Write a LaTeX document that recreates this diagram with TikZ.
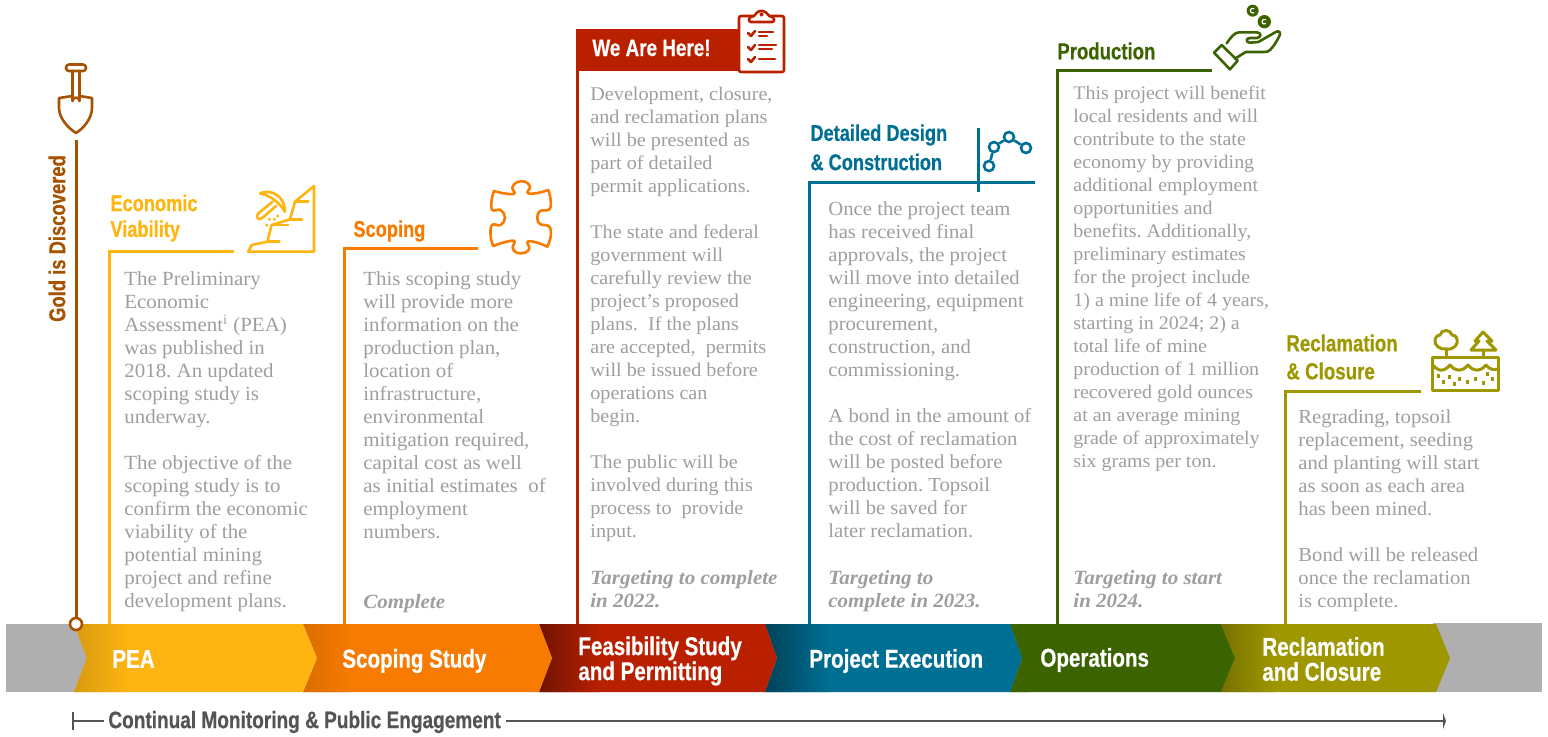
\documentclass[tikz,border=0pt]{standalone}
\usepackage{fontspec}
\setmainfont[FakeStretch=1.04]{Liberation Serif}
\newfontfamily\headf[FakeStretch=0.8,BoldFeatures={FakeBold=0.5,FakeStretch=0.8}]{Liberation Sans}
\definecolor{cyel}{HTML}{FFB511}
\definecolor{cora}{HTML}{F77B00}
\definecolor{cred}{HTML}{B92000}
\definecolor{cblu}{HTML}{006F94}
\definecolor{cgrn}{HTML}{3B6400}
\definecolor{coli}{HTML}{9E9700}
\definecolor{cbro}{HTML}{A65200}
\definecolor{cgry}{HTML}{AFAFAF}
\definecolor{ctxt}{HTML}{9E9E9E}
\definecolor{cdrk}{HTML}{545454}
\newcommand{\bdfont}[1]{\fontsize{#1}{11.5}\selectfont}
\newcommand{\tgfont}{\fontsize{10.1}{11.5}\selectfont\bfseries\itshape}
\tikzset{
 bodytext/.style={anchor=north west,inner sep=0pt,align=left,text=ctxt,font=\bdfont{#1}},
 targettext/.style={anchor=north west,inner sep=0pt,align=left,text=ctxt,font=\tgfont},
 headtext/.style={anchor=west,inner sep=0pt,align=left,font=\headf\bfseries\fontsize{11.4}{14}\selectfont},
 bandtext/.style={anchor=west,inner sep=0pt,align=left,text=white,font=\headf\bfseries\fontsize{12.85}{12.5}\selectfont},
 frameline/.style={line width=1.5pt},
 iconline/.style={line width=1.3pt,line join=round,line cap=round},
 netdot/.style={circle,draw=cblu,line width=1.3pt,fill=white,inner sep=0pt,minimum size=5pt},
}
\newcommand{\chev}[7]{%
 \fill[#5] (#1,624)--(#2,624)--(#3,658)--(#2,692)--(#1,692)--(#4,658)--cycle;
 \begin{scope}
 \clip (#1,624)--(#2,624)--(#3,658)--(#2,692)--(#1,692)--(#4,658)--cycle;
 \shade[left color=#6,right color=#5] (#1,624) rectangle (#7,692);
 \end{scope}}
\newcommand{\soilspeck}[2]{\fill[coli] (#1-1.5,#2-2) rectangle (#1+1.5,#2+2);}
\frenchspacing
\begin{document}
\begin{tikzpicture}[x=0.5pt,y=-0.5pt]
\useasboundingbox (0,0) rectangle (1548,736);
% grey ends
\fill[cgry] (6,624) rectangle (90,692);
\fill[cgry] (1433,623) rectangle (1542,692);
% band
\chev{1221}{1436}{1450}{1235}{coli}{coli!75!black}{1275}
\chev{1010}{1221}{1235}{1022}{cgrn}{cgrn}{1030}
\chev{765}{1010}{1022}{777}{cblu}{cblu!60!black}{830}
\chev{539}{765}{777}{552}{cred}{cred!60!black}{600}
\chev{303}{539}{552}{317}{cora}{cora!88!black}{350}
\chev{74}{303}{317}{87}{cyel}{cyel!85!black}{130}
% frames
\draw[frameline,cyel] (109,624)--(109,251)--(234,251);
\draw[frameline,cora] (344,624)--(344,248)--(478,248);
\draw[frameline,cred] (577,624)--(577,60);
\fill[cred] (576,29) rectangle (742,71);
\draw[frameline,cblu] (809,624)--(809,182)--(1035,182);
\draw[frameline,cblu] (978,128)--(978,192);
\draw[frameline,cgrn] (1057,624)--(1057,70)--(1212,70);
\draw[frameline,coli] (1285,624)--(1285,391)--(1421,391);
% gold discovered
\coordinate (sh) at (76,140);
\node[draw=cbro,line width=1.3pt,fill=white,circle,inner sep=0pt,minimum size=6pt] (dot) at (76,624) {};
\draw[frameline,cbro] (sh)--(dot);
% shovel
\draw[iconline,cbro,rounded corners=1.5pt] (66,64.5) rectangle (86,71);
\draw[iconline,cbro] (72.5,71)--(72.5,101) arc[start angle=180,end angle=360,radius=3.5] -- (79.5,71);
\draw[iconline,cbro] (72.5,96)--(59,98)--(59,108) .. controls (59,118) and (68,128) .. (76,133) .. controls (84,128) and (92,118) .. (92,108)--(92,98)--(79.5,96);
\node[headtext,anchor=center,rotate=90,text=cbro,font=\headf\bfseries\fontsize{11.5}{14}\selectfont] (gold) at (57,238.5) {Gold is Discovered};
% pick and cliff icon
\begin{scope}[shift={(240,180)},x=0.16667pt,y=-0.16667pt,iconline,cyel]
 \draw (25,215)--(35,195)--(82,185)--(95,135)--(150,118)--(165,65)--(222,18)--(222,215)--cycle;
 \draw (165,65)--(205,65) (150,118)--(186,118) (95,135)--(145,135) (82,185)--(118,185);
 \draw (60,40) .. controls (95,25) and (135,50) .. (135,95) .. controls (120,70) and (95,48) .. (60,40);
 \draw (98,65)--(55,100) .. controls (45,110) and (55,125) .. (68,113)--(108,78);
 \fill (88,118) circle (5) (103,118) circle (5) (113,108) circle (5) (80,135) circle (5);
\end{scope}
% puzzle icon
\begin{scope}[shift={(480,175)},x=0.16667pt,y=-0.16667pt,iconline,cora]
 \draw plot[smooth,tension=.7] coordinates {(42,48) (72,55) (103,56) (97,38) (110,22) (135,20) (150,35) (143,54) (172,54) (205,45)};
 \draw plot[smooth,tension=.7] coordinates {(205,45) (212,75) (208,103) (180,108) (172,128) (180,147) (208,155) (212,185) (202,215)};
 \draw plot[smooth,tension=.7] coordinates {(202,215) (172,203) (143,200) (148,220) (135,233) (110,233) (98,218) (103,198) (72,202) (40,213)};
 \draw plot[smooth,tension=.7] coordinates {(40,213) (32,185) (36,150) (62,150) (75,128) (62,105) (37,105) (35,75) (42,48)};
\end{scope}
% clipboard icon
\begin{scope}[iconline,cred]
 \draw[fill=white,rounded corners=1pt] (739,16) rectangle (784,72);
 \draw[fill=white,rounded corners=1pt] (749,22)--(749,17)--(755.5,16) arc[start angle=190,end angle=350,radius=6.2]--(774,17)--(774,22)--cycle;
 \fill (761.5,14.5) circle (2);
 \draw (748,33)--(751,36)--(755,31) (748,47)--(751,50)--(755,45) (748,59)--(751,62)--(755,57);
 \draw (759,32)--(773,32) (759,36)--(767,36) (759,45)--(776,45) (759,49)--(772,49) (759,59)--(775,59);
\end{scope}
% network icon
\node[netdot] (n1) at (989,166) {};
\node[netdot] (n2) at (994,147) {};
\node[netdot] (n3) at (1009,137) {};
\node[netdot] (n4) at (1026,148) {};
\draw[line width=1.3pt,cblu] (n1)--(n2) (n2)--(n3) (n3)--(n4);
% hand icon
\begin{scope}[shift={(1205,0)},x=0.16667pt,y=-0.16667pt,iconline,cgrn]
 \draw (27,158)--(50,135)--(98,182)--(75,208)--cycle;
 \draw (65,130) .. controls (78,112) and (88,97) .. (102,97)--(155,97) .. controls (170,97) and (170,113) .. (155,114)--(135,114) .. controls (122,114) and (122,128) .. (135,128)--(160,126)--(212,96) .. controls (222,90) and (228,98) .. (224,106) .. controls (215,125) and (205,140) .. (195,150) .. controls (190,155) and (185,156) .. (175,156)--(122,156)--(90,176);
 \fill (143,32) circle (18) (178,65) circle (20);
 \draw[white,line width=.6pt] (146.5,38) arc[start angle=60,end angle=300,radius=7];
 \draw[white,line width=.6pt] (181.5,71) arc[start angle=60,end angle=300,radius=7];
\end{scope}
% reclamation icon
\begin{scope}[iconline,coli,line width=1.5pt]
 \draw[line cap=butt] (1432,357) rectangle (1498,390);
 \draw (1432,364) .. controls (1438,372) and (1444,372) .. (1450,365) .. controls (1456,372) and (1462,372) .. (1468,365) .. controls (1474,372) and (1480,372) .. (1486,365) .. controls (1490,370) and (1494,370) .. (1498,369);
 \draw (1446,357)--(1446,349);
 \draw (1446,349) .. controls (1440,350) and (1434,345) .. (1435,340) .. controls (1436,336) and (1438,335) .. (1440,335) .. controls (1441,329) and (1451,329) .. (1452,335) .. controls (1456,335) and (1458,339) .. (1457,343) .. controls (1456,347) and (1451,350) .. (1446,349);
 \draw (1483,357)--(1483,350);
 \draw (1471,350)--(1496,350)--(1487,341)--(1492,341)--(1483,332)--(1475,341)--(1479,341)--cycle;
\end{scope}
\soilspeck{1438}{376}\soilspeck{1443}{382}\soilspeck{1449}{377}\soilspeck{1454}{384}\soilspeck{1459}{379}\soilspeck{1467}{382}\soilspeck{1475}{379}\soilspeck{1483}{383}\soilspeck{1487}{374}\soilspeck{1492}{379}
% headings
\node[headtext,text=cyel] (h1a) at (110,203) {Economic};
\node[headtext,text=cyel] (h1b) at (110,231) {Viability};
\node[headtext,text=cora] (h2) at (353,231) {Scoping};
\node[headtext,text=white,font=\headf\bfseries\fontsize{11.8}{14}\selectfont] (h3) at (592,48) {We Are Here!};
\node[headtext,text=cblu] (h4a) at (810,135) {Detailed Design};
\node[headtext,text=cblu] (h4b) at (810,162) {\&~Construction};
\node[headtext,text=cgrn,font=\headf\bfseries\fontsize{11.6}{14}\selectfont] (h5) at (1057,51) {Production};
\node[headtext,text=coli,font=\headf\bfseries\fontsize{11.7}{14}\selectfont] (h6a) at (1286,343) {Reclamation};
\node[headtext,text=coli,font=\headf\bfseries\fontsize{11.7}{14}\selectfont] (h6b) at (1286,371) {\&~Closure};
% body
\node[bodytext=10.05] (b1) at (124,271) {The Preliminary\\Economic\\Assessment\textsuperscript{i} (PEA)\\was published in\\2018. An updated\\scoping study is\\underway.\\[11.5pt]The objective of the\\scoping study is to\\confirm the economic\\viability of the\\potential mining\\project and refine\\development plans.};
\node[bodytext=10.05] (b2) at (363,271) {This scoping study\\will provide more\\information on the\\production plan,\\location of\\infrastructure,\\environmental\\mitigation required,\\capital cost as well\\as initial estimates\ \ of\\employment\\numbers.};
\node[targettext] (b2c) at (363,594) {Complete};
\node[bodytext=9.7] (b3) at (590,87) {Development, closure,\\and reclamation plans\\will be presented as\\part of detailed\\permit applications.\\[11.5pt]The state and federal\\government will\\carefully review the\\project's proposed\\plans.\ \ If the plans\\are accepted,\ \ permits\\will be issued before\\operations can\\begin.\\[11.5pt]The public will be\\involved during this\\process to\ \ provide\\input.};
\node[targettext] (b3c) at (590,570) {Targeting to complete\\in 2022.};
\node[bodytext=9.95] (b4) at (828,201) {Once the project team\\has received final\\approvals, the project\\will move into detailed\\engineering, equipment\\procurement,\\construction, and\\commissioning.\\[11.5pt]A bond in the amount of\\the cost of reclamation\\will be posted before\\production. Topsoil\\will be saved for\\later reclamation.};
\node[targettext] (b4c) at (828,570) {Targeting to\\complete in 2023.};
\node[bodytext=9.6] (b5) at (1073,86) {This project will benefit\\local residents and will\\contribute to the state\\economy by providing\\additional employment\\opportunities and\\benefits. Additionally,\\preliminary estimates\\for the project include\\1) a mine life of 4 years,\\starting in 2024; 2) a\\total life of mine\\production of 1 million\\recovered gold ounces\\at an average mining\\grade of approximately\\six grams per ton.};
\node[targettext] (b5c) at (1073,570) {Targeting to start\\in 2024.};
\node[bodytext=9.95] (b6) at (1298,409) {Regrading, topsoil\\replacement, seeding\\and planting will start\\as soon as each area\\has been mined.\\[11.5pt]Bond will be released\\once the reclamation\\is complete.};
% band labels
\node[bandtext] (p1) at (112,659) {PEA};
\node[bandtext] (p2) at (342,661) {Scoping Study};
\node[bandtext] (p3) at (578,661) {Feasibility Study\\and Permitting};
\node[bandtext] (p4) at (809,661) {Project Execution};
\node[bandtext] (p5) at (1040,660) {Operations};
\node[bandtext] (p6) at (1262,659) {Reclamation\\and Closure};
% bottom
\node[anchor=west,inner sep=0pt,text=cdrk,font=\headf\bfseries\fontsize{11.9}{12}\selectfont] (mon) at (108,722) {Continual Monitoring \& Public Engagement};
\coordinate (ms) at (73,721);
\coordinate (me) at (1445,721);
\draw[line width=1.2pt,cdrk] (ms)--([xshift=-2pt]mon.west|-ms);
\draw[line width=1.2pt,cdrk] (73,712)--(73,730);
\draw[line width=1.2pt,cdrk] ([xshift=2.5pt]mon.east|-ms)--(me);
\fill[cdrk] (1443,713)--(1446,721)--(1443,729)--cycle;
\end{tikzpicture}
\end{document}
